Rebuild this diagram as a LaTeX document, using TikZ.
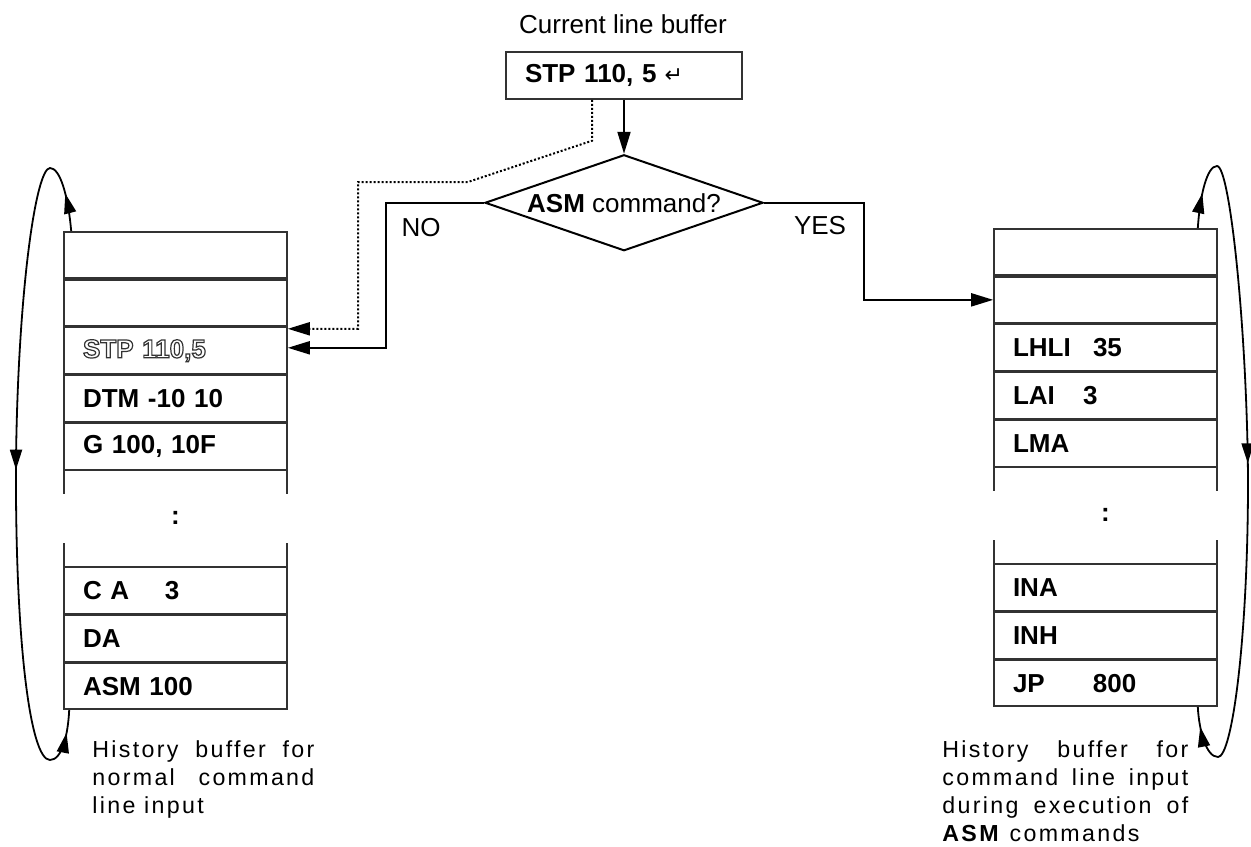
\documentclass[tikz,border=0pt]{standalone}
\usepackage{fontspec}
\setmainfont{Liberation Sans}
\newfontfamily\symfont{DejaVu Sans}
\newfontfamily\spacedfont[LetterSpace=10]{Liberation Sans}
\usetikzlibrary{arrows.meta,positioning,shapes.geometric,decorations.markings}
\definecolor{boxGray}{RGB}{50,50,50}
\newcommand{\hollowtext}[1]{\special{pdf:literal direct 1 Tr 0.6 w 0.2 G}#1\special{pdf:literal direct 0 Tr 0 G}}
\tikzset{loopTip/.tip={Triangle[length=10pt,width=6pt]}}
\hyphenpenalty=10000
\exhyphenpenalty=10000

\begin{document}
\begin{tikzpicture}[x=0.5pt,y=-0.5pt,
    cell/.style={draw=boxGray,line width=0.8pt,text width=92.5pt,minimum height=23.15pt,
      inner xsep=9.5pt,inner ysep=0pt,align=left,font=\bfseries\fontsize{13}{15}\selectfont},
    gapcell/.style={cell,draw=none,outer sep=0pt,minimum height=47.9pt,align=center},
    stub/.style={draw=boxGray,line width=0.8pt},
    arrow/.style={-{Triangle[length=11pt,width=6.5pt]},line width=1pt},
    dotarrow/.style={arrow,line width=1pt,dash pattern=on 1pt off 1pt},
    loopline/.style={line width=0.9pt,postaction=decorate},
    lbl/.style={font=\fontsize{13}{15}\selectfont},
    note/.style={anchor=north west,inner sep=0pt,align=justify,font=\spacedfont\fontsize{11.6}{14}\selectfont}
  ]
  \useasboundingbox (0,0) rectangle (1251,846);

  % current line buffer and decision
  \node[lbl] (title) at (623,24) {Current line buffer};
  \node[draw=boxGray,line width=0.75pt,text width=99pt,minimum height=23.5pt,inner xsep=9.5pt,
    inner ysep=0pt,align=left,font=\bfseries\fontsize{13}{15}\selectfont] (curbuf) at (624,75.5)
    {STP 110, 5\hspace{4pt}{\symfont\mdseries\fontsize{11}{11}\selectfont ↵}};
  \node[draw,diamond,aspect=2.9,line width=1pt,minimum width=139pt,minimum height=48pt,inner sep=0pt,
    lbl,below=27pt of curbuf] (ask) {\textbf{ASM} command?};
  \node[lbl] (nolabel) at (421,228) {NO};
  \node[lbl] (yeslabel) at (820,226) {YES};

  % history buffer, normal input
  \node[cell,anchor=north] (lbuf1) at (175.5,231) {};
  \node[cell,below=0pt of lbuf1] (lbuf2) {};
  \node[cell,below=0pt of lbuf2] (lstp) {\hollowtext{STP 110,5}};
  \node[cell,below=0pt of lstp] (ldtm) {DTM -10 10};
  \node[cell,below=0pt of ldtm] (lgo) {G 100, 10F};
  \node[gapcell,below=0pt of lgo] (lgap) {:};
  \node[cell,below=0pt of lgap] (lca) {\makebox[41pt][l]{C A}3};
  \node[cell,below=0pt of lca] (lda) {DA};
  \node[cell,below=0pt of lda] (lasm) {ASM 100};
  \draw[stub] (lgap.north west) -- ++(0,23) (lgap.north east) -- ++(0,23)
    (lgap.south west) -- ++(0,-23) (lgap.south east) -- ++(0,-23);

  % history buffer, ASM input
  \node[cell,anchor=north] (rbuf1) at (1105.5,228) {};
  \node[cell,below=0pt of rbuf1] (rbuf2) {};
  \node[cell,below=0pt of rbuf2] (rlhli) {\makebox[40pt][l]{LHLI}35};
  \node[cell,below=0pt of rlhli] (rlai) {\makebox[35pt][l]{LAI}3};
  \node[cell,below=0pt of rlai] (rlma) {LMA};
  \node[gapcell,below=0pt of rlma] (rgap) {:};
  \node[cell,below=0pt of rgap] (rina) {INA};
  \node[cell,below=0pt of rina] (rinh) {INH};
  \node[cell,below=0pt of rinh] (rjp) {\makebox[40pt][l]{JP}800};
  \draw[stub] (rgap.north west) -- ++(0,23) (rgap.north east) -- ++(0,23)
    (rgap.south west) -- ++(0,-23) (rgap.south east) -- ++(0,-23);

  \node[note,text width=111pt] (lnote) at (92,740) {History buffer for normal command line input};
  \node[note,text width=123pt] (rnote) at (942,740)
    {History buffer for command line input during execution of \textbf{ASM} commands};

  % connectors
  \draw[arrow] (curbuf) -- (ask);
  \draw[dotarrow] ([xshift=-16pt]curbuf.south) -- ++(0,41) -- (468,182) -- (358,182)
    |- ([yshift=-1pt]lstp.north east);
  \draw[arrow] (ask.west) -- ++(-98,0) |- ([yshift=-10.5pt]lstp.north east);
  \draw[arrow] (ask.east) -- ++(100,0) |- (rbuf2.west);

  % ring loops
  \draw[loopline,decoration={markings,
      mark=at position 19pt with {\arrow{loopTip}},
      mark=at position 0.515 with {\arrow{loopTip}},
      mark=at position -11.5pt with {\arrow{loopTip}}}]
    ([xshift=4pt]lbuf1.north west) .. controls (68,195) and (60,168) .. (50,168)
    .. controls (36,168) and (18,290) .. (16,460)
    .. controls (15,640) and (30,760) .. (50,760)
    .. controls (62,760) and (68,735) .. ([xshift=3pt]lasm.south west);
  \draw[loopline,decoration={markings,
      mark=at position 17.5pt with {\arrow{loopTip}},
      mark=at position 0.509 with {\arrow{loopTip}},
      mark=at position -10pt with {\arrow{loopTip}}}]
    ([xshift=-10pt]rbuf1.north east) .. controls (1200,195) and (1207,166) .. (1217,166)
    .. controls (1230,166) and (1247,330) .. (1248,480)
    .. controls (1248,640) and (1232,757) .. (1218,757)
    .. controls (1206,757) and (1199,730) .. ([xshift=-10pt]rjp.south east);
\end{tikzpicture}
\end{document}
